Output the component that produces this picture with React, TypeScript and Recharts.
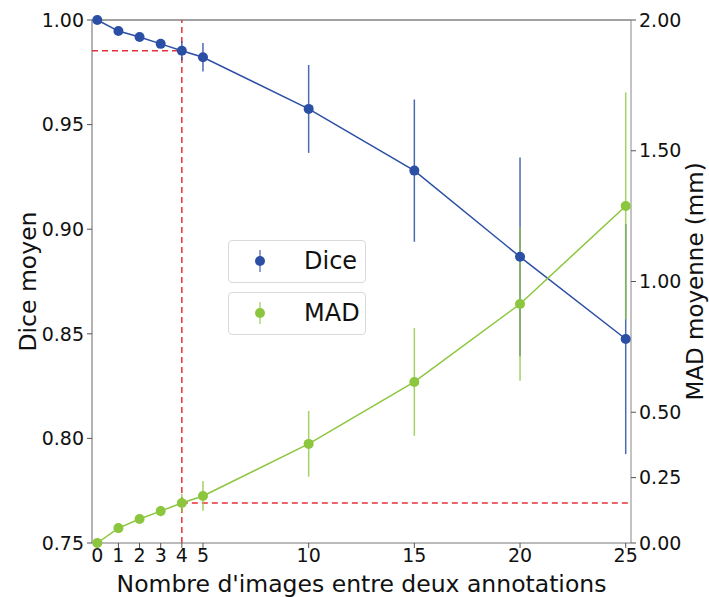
import React from "react";
import {
  ComposedChart,
  Line,
  XAxis,
  YAxis,
  ErrorBar,
  ReferenceLine,
  Legend,
} from "recharts";

const FONT = "DejaVu Sans";
const DICE_COLOR = "#2b4fa5";
const MAD_COLOR = "#8cc63e";
const RED = "#e8303a";

const imagesBetween = [0, 1, 2, 3, 4, 5, 10, 15, 20, 25];
const diceMean = [1.0, 0.9947, 0.9919, 0.9886, 0.9853, 0.9822, 0.9575, 0.928, 0.8868, 0.8475];
const diceStd = [0, 0.0005, 0.001, 0.0018, 0.0045, 0.0068, 0.021, 0.034, 0.0475, 0.055];
const madMean = [0, 0.057, 0.092, 0.122, 0.153, 0.18, 0.379, 0.616, 0.914, 1.289];
const madStd = [0, 0.005, 0.01, 0.02, 0.035, 0.057, 0.126, 0.206, 0.294, 0.434];

const xTicks = [0, 1, 2, 3, 4, 5, 10, 15, 20, 25];
const diceTicks = [0.75, 0.8, 0.85, 0.9, 0.95, 1.0];
const madTicks = [0, 0.25, 0.5, 1.0, 1.5, 2.0];

// chosen operating point
const CHOSEN = 4;
const chosenIdx = imagesBetween.indexOf(CHOSEN);

const data = imagesBetween.map((x, i) => ({
  x,
  dice: diceMean[i],
  diceErr: diceStd[i],
  mad: madMean[i],
  madErr: madStd[i],
}));

const legendItems = [
  { name: "Dice", color: DICE_COLOR },
  { name: "MAD", color: MAD_COLOR },
];

function LegendBox() {
  return (
    <div style={{ fontFamily: FONT }}>
      {legendItems.map((it) => (
        <div
          key={it.name}
          style={{
            width: 138,
            height: 43,
            boxSizing: "border-box",
            border: "1px solid #d9d9d9",
            borderRadius: 4,
            background: "#fff",
            position: "relative",
            marginBottom: 9,
          }}
        >
          <svg width={40} height={40} style={{ position: "absolute", left: 11, top: 0 }}>
            <line x1={20} x2={20} y1={9} y2={31} stroke={it.color} strokeOpacity={0.7} strokeWidth={1.5} />
            <circle cx={20} cy={20} r={5} fill={it.color} />
          </svg>
          <span
            style={{
              position: "absolute",
              left: 75,
              top: 5,
              fontSize: 24,
              color: "#111",
              lineHeight: "30px",
            }}
          >
            {it.name}
          </span>
        </div>
      ))}
    </div>
  );
}

const tickStyle = { fill: "#111", fontSize: 19, fontFamily: FONT };

export default function App() {
  return (
    <div style={{ position: "absolute", left: 0, top: 0, background: "#fff" }}>
      <ComposedChart
        width={709}
        height={597}
        data={data}
        margin={{ top: 20, right: 0, bottom: 0, left: 0 }}
        style={{ fontFamily: FONT }}
      >
        <XAxis
          dataKey="x"
          type="number"
          domain={[-0.25, 25.25]}
          ticks={xTicks}
          interval={0}
          height={54}
          tick={tickStyle}
          tickSize={5}
          tickMargin={1}
          tickLine={{ stroke: "#555" }}
          axisLine={{ stroke: "#777" }}
          label={{
            value: "Nombre d'images entre deux annotations",
            position: "insideBottom",
            offset: 5,
            style: { fontSize: 23.5, fill: "#111", fontFamily: FONT },
          }}
        />
        <YAxis
          yAxisId="dice"
          orientation="left"
          type="number"
          domain={[0.75, 1.0]}
          ticks={diceTicks}
          width={92}
          tick={tickStyle}
          tickSize={5}
          tickMargin={3}
          tickFormatter={(v: number) => v.toFixed(2)}
          tickLine={{ stroke: "#555" }}
          axisLine={{ stroke: "#666" }}
          label={{
            value: "Dice moyen",
            angle: -90,
            position: "insideLeft",
            offset: 28,
            style: { fontSize: 23.5, fill: "#111", fontFamily: FONT, textAnchor: "middle" },
          }}
        />
        <YAxis
          yAxisId="mad"
          orientation="right"
          type="number"
          domain={[0, 2.0]}
          ticks={madTicks}
          width={78}
          tick={tickStyle}
          tickSize={5}
          tickMargin={3}
          tickFormatter={(v: number) => v.toFixed(2)}
          tickLine={{ stroke: "#555" }}
          axisLine={{ stroke: "#888" }}
          label={{
            value: "MAD moyenne (mm)",
            angle: -90,
            position: "insideRight",
            offset: 14,
            style: { fontSize: 23, fill: "#111", fontFamily: FONT, textAnchor: "middle" },
          }}
        />
        {/* top spine */}
        <ReferenceLine yAxisId="dice" y={1.0} stroke="#444" strokeWidth={1} ifOverflow="extendDomain" />

        {/* chosen point guides */}
        <ReferenceLine
          yAxisId="dice"
          segment={[
            { x: -0.25, y: diceMean[chosenIdx] },
            { x: CHOSEN, y: diceMean[chosenIdx] },
          ]}
          stroke={RED}
          strokeWidth={1.5}
          strokeDasharray="6 4"
        />
        <ReferenceLine
          yAxisId="dice"
          x={CHOSEN}
          stroke={RED}
          strokeWidth={1.5}
          strokeDasharray="6 4"
        />
        <ReferenceLine
          yAxisId="mad"
          segment={[
            { x: CHOSEN, y: madMean[chosenIdx] },
            { x: 25.25, y: madMean[chosenIdx] },
          ]}
          stroke={RED}
          strokeWidth={1.5}
          strokeDasharray="6 4"
        />

        <Line
          yAxisId="dice"
          dataKey="dice"
          type="linear"
          stroke={DICE_COLOR}
          strokeWidth={1.5}
          dot={{ r: 5, fill: DICE_COLOR, stroke: DICE_COLOR, strokeWidth: 0 }}
          activeDot={false}
          isAnimationActive={false}
        >
          <ErrorBar
            dataKey="diceErr"
            width={0}
            stroke={DICE_COLOR}
            strokeOpacity={0.85}
            strokeWidth={1.5}
            direction="y"
            isAnimationActive={false}
          />
        </Line>
        <Line
          yAxisId="mad"
          dataKey="mad"
          type="linear"
          stroke={MAD_COLOR}
          strokeWidth={1.5}
          dot={{ r: 5, fill: MAD_COLOR, stroke: MAD_COLOR, strokeWidth: 0 }}
          activeDot={false}
          isAnimationActive={false}
        >
          <ErrorBar
            dataKey="madErr"
            width={0}
            stroke={MAD_COLOR}
            strokeOpacity={0.8}
            strokeWidth={1.5}
            direction="y"
            isAnimationActive={false}
          />
        </Line>
        <Legend
          layout="vertical"
          align="center"
          verticalAlign="middle"
          content={() => <LegendBox />}
          wrapperStyle={{ position: "absolute", left: 228, top: 240, width: 140, height: 96 }}
        />
      </ComposedChart>
    </div>
  );
}
